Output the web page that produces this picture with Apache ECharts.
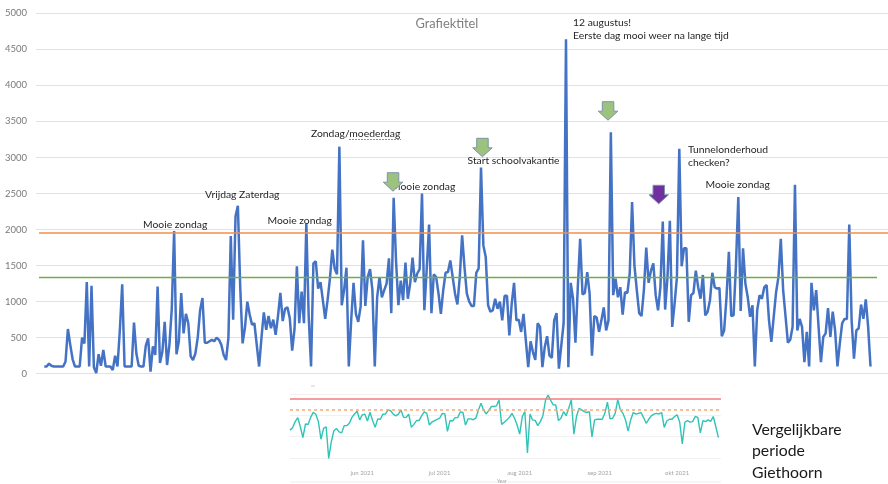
<!DOCTYPE html>
<html>
<head>
<meta charset="utf-8">
<title>Grafiektitel</title>
<script src="https://cdn.jsdelivr.net/npm/echarts@6/dist/echarts.min.js"></script>
<style>
html, body { margin: 0; padding: 0; background: #fff; }
#main { width: 888px; height: 484px; }
</style>
</head>
<body>
<div id="main"></div>
<script>
// bezoekers per dag
var visitors = [
	100,100,140,110,100,100,100,100,100,170,620,400,200,100,100,100,500,420,1270,100,1220,90,10,270,110,330,100,100,100,50,250,100,600,1240,100,100,100,100,710,
	280,110,100,100,390,490,30,380,260,1210,150,300,720,120,400,900,1980,270,450,1120,560,830,700,240,190,280,500,880,1050,430,430,450,470,450,500,470,400,260,190,500,
	1910,750,2180,2330,1200,420,640,1000,820,680,700,400,100,500,850,610,800,630,750,540,800,1120,730,900,920,770,320,620,1490,
	700,1140,700,2080,800,100,1530,1560,1180,1270,1020,760,1020,1320,1720,1460,1380,3150,950,1160,1470,100,740,1260,830,720,930,1850,940,1340,1450,1160,100,1060,1340,1060,1160,1250,1600,840,
	2440,1570,950,1290,1020,1540,1040,1250,1610,1270,1390,1450,2500,880,1450,2070,840,1380,1340,1110,830,1160,1400,1410,1570,1340,1110,960,1340,1920,1480,1110,1000,940,940,1400,1460,2860,1780,1620,
	950,860,880,1040,900,1000,740,1080,1080,530,970,1260,740,750,580,830,460,90,450,300,190,700,650,90,370,520,250,220,740,840,70,390,700,4640,90,1260,1040,430,1200,1870,1100,
	1120,1410,1110,250,800,780,580,740,920,600,740,3350,1090,1320,1060,1200,820,1130,1120,1390,2380,1500,1160,840,800,1160,1750,1260,1430,1530,1090,880,1200,2110,890,1340,2120,650,970,1340,
	3120,1490,1740,1740,720,1090,1120,1430,1200,1040,1370,810,860,1020,1400,1200,1180,1190,520,600,1060,1690,800,810,1500,2450,870,1740,1250,1060,790,950,100,880,1090,1040,1200,1230,740,440,
	790,1130,1340,1870,1160,800,430,470,650,2620,600,760,650,160,580,100,1260,880,1160,650,160,510,560,910,510,860,600,100,420,700,760,760,2070,740,210,600,630,960,760,1030,650,100
];
var upperLine = 1953;
var lowerLine = 1343;
var yTicks = [0, 500, 1000, 1500, 2000, 2500, 3000, 3500, 4000, 4500, 5000];

// vergelijkbare periode Giethoorn (schaal zonder labels in het origineel)
var compareStart = [2021, 4, 4];
var compareValues = [
	1300,1410,1700,1890,1460,950,1590,1570,1900,2140,2050,1700,870,1380,1460,-30,750,1270,1380,1220,1170,1510,1510,1620,1900,2060,2190,1780,2020,2050,1730,2140,1750,1430,1830,1810,2050,2060,2250,2210,
	2050,1970,2050,2250,1900,1900,2050,1440,1570,1750,1750,1970,2160,2090,1540,1680,1750,1810,1860,2090,2060,1240,1750,1730,1890,1890,2160,2130,1540,1830,1830,1790,1860,2250,2570,2250,2060,2220,2410,2410,
	2440,2730,1570,1670,1780,1900,2090,1860,1540,1110,1940,2170,220,2060,1780,1760,1510,1700,1980,2700,2950,2700,2490,2480,1750,1860,2170,1980,2330,2730,1110,1940,2330,2250,2170,2130,2170,980,1780,1810,
	1810,1810,2090,2620,1830,1860,2090,2730,2250,2090,1780,1250,1780,2130,2050,2090,2130,1890,1620,1810,1970,2050,2090,2060,2130,1430,1730,1810,1810,1940,2020,1670,650,1670,1750,1680,1700,1940,1900,1170,
	1750,1700,1780,1710,1940,1460,950
];
var compareRed = 2760;
var compareDotted = 2250;
var monthNames = ['jan', 'feb', 'mrt', 'apr', 'mei', 'jun', 'jul', 'aug', 'sep', 'okt', 'nov', 'dec'];

var font = 'Lato';

var mainPoints = [];
for(var i = 0; i < visitors.length; i++) {
	mainPoints.push([i, visitors[i]]);
}
var comparePoints = [];
for(var j = 0; j < compareValues.length; j++) {
	comparePoints.push([new Date(compareStart[0], compareStart[1], compareStart[2] + j), compareValues[j]]);
}

// eerste punt op x=44.3, laatste op x=870.5, grid loopt van 36 tot 888
var step = (870.5 - 44.3) / (visitors.length - 1);

function note(text, x, y, size, color) {
	return {
		type: 'text',
		x: x,
		y: y,
		z: 10,
		style: {
			text: text,
			fill: color || '#262626',
			font: (size || 10.35) + 'px ' + font,
			textVerticalAlign: 'middle'
		}
	};
}

function arrow(x, y, fill, stroke) {
	// pijl naar beneden, 20 breed en 18.5 hoog
	return {
		type: 'polygon',
		z: 11,
		shape: {
			points: [[x + 4, y], [x + 15.5, y], [x + 15.5, y + 9.5], [x + 19.5, y + 9.5], [x + 9.7, y + 18.5], [x, y + 9.5], [x + 4, y + 9.5]]
		},
		style: { fill: fill, stroke: stroke, lineWidth: 1 }
	};
}

var myChart = echarts.init(document.getElementById('main'));

var option = {
	animation: false,
	backgroundColor: '#fff',
	textStyle: { fontFamily: font },
	grid: [
		{ left: 36, top: 13.3, width: 852, height: 360.4 },
		{ left: 290, top: 394, width: 431, height: 85 }
	],
	xAxis: [
		{
			gridIndex: 0,
			type: 'value',
			min: -8.3 / step,
			max: (888 - 44.3) / step,
			show: false
		},
		{
			gridIndex: 1,
			type: 'time',
			min: new Date(2021, 4, 4).getTime(),
			max: new Date(2021, 9, 18).getTime(),
			splitLine: { show: false },
			axisTick: { show: false },
			axisLine: { show: false },
			axisLabel: {
				color: '#a3a3a3',
				fontSize: 6,
				margin: -9,
				hideOverlap: false,
				formatter: function(val) {
					var d = new Date(val);
					if(d.getDate() !== 1) return '';
					return monthNames[d.getMonth()] + ' ' + d.getFullYear();
				}
			}
		}
	],
	yAxis: [
		{
			gridIndex: 0,
			type: 'value',
			min: yTicks[0],
			max: yTicks[yTicks.length - 1],
			interval: 500,
			axisLine: { show: false },
			axisTick: { show: false },
			axisLabel: {
				color: '#7a7a7a',
				fontSize: 9.5,
				margin: 9,
				formatter: function(val) { return String(val); }
			},
			splitLine: { lineStyle: { color: '#e2e2e2', width: 1.2 } }
		},
		{
			gridIndex: 1,
			type: 'value',
			min: -1000,
			max: 3000,
			interval: 1000,
			axisLine: { show: false },
			axisTick: { show: false },
			axisLabel: { show: false },
			splitLine: { showMinLine: false, lineStyle: { color: '#f1f1f1', width: 1 } }
		}
	],
	series: [
		{
			name: 'Bezoekers',
			type: 'line',
			xAxisIndex: 0,
			yAxisIndex: 0,
			data: mainPoints,
			showSymbol: false,
			lineStyle: { color: '#4472C4', width: 2.5 },
			z: 3
		},
		{
			name: 'Grenzen',
			type: 'line',
			xAxisIndex: 0,
			yAxisIndex: 0,
			data: [],
			z: 4,
			markLine: {
				silent: true,
				symbol: 'none',
				label: { show: false },
				data: [
					[{ x: 39, yAxis: upperLine, lineStyle: { color: '#F08F4E', width: 1.5, type: 'solid' } }, { x: 888, yAxis: upperLine }],
					[{ x: 39, yAxis: lowerLine, lineStyle: { color: '#70AD47', width: 1.4, type: 'solid' } }, { x: 877, yAxis: lowerLine }]
				]
			}
		},
		{
			name: 'Giethoorn',
			type: 'line',
			xAxisIndex: 1,
			yAxisIndex: 1,
			data: comparePoints,
			showSymbol: false,
			lineStyle: { color: '#2EC4B6', width: 1.4 },
			z: 3,
			markLine: {
				silent: true,
				symbol: 'none',
				label: { show: false },
				data: [
					{ yAxis: compareRed, lineStyle: { color: '#F47C7C', width: 1.6, type: 'solid' } },
					{ yAxis: compareDotted, lineStyle: { color: '#F7A878', width: 1.5, type: [3, 3] } }
				]
			}
		}
	],
	graphic: [
		note('Grafiektitel', 415.5, 24, 12.8, '#7f7f7f'),
		note('Mooie zondag', 143, 224.5),
		note('Vrijdag Zaterdag', 205, 195),
		note('Mooie zondag', 267.5, 221),
		note('Zondag/moederdag', 311, 134),
		{
			type: 'line',
			z: 10,
			shape: { x1: 349, y1: 139.5, x2: 401, y2: 139.5 },
			style: { stroke: '#E0706A', lineWidth: 1, lineDash: [2, 1] }
		},
		note('Mooie zondag', 391, 187),
		note('Start schoolvakantie', 467.5, 160.5),
		note('12 augustus!', 573, 23),
		note('Eerste dag mooi weer na lange tijd', 573, 36),
		note('Tunnelonderhoud', 688, 149.5),
		note('checken?', 688, 163),
		note('Mooie zondag', 705.5, 185),
		arrow(383.3, 172.7, '#9DC27E', '#7F93A8'),
		arrow(472.7, 138.3, '#9DC27E', '#7F93A8'),
		arrow(598.3, 101.7, '#9DC27E', '#7F93A8'),
		arrow(649, 185.3, '#7030A0', '#7F93A8'),
		note('Vergelijkbare', 752, 430, 15.8, '#1a1a1a'),
		note('periode', 752, 451, 15.8, '#1a1a1a'),
		note('Giethoorn', 752, 473, 15.8, '#1a1a1a'),
		note('Year', 497, 481.5, 5, '#a3a3a3'),
		{
			type: 'line',
			shape: { x1: 290, y1: 482, x2: 721, y2: 482 },
			style: { stroke: '#ececec', lineWidth: 1 }
		},
		{
			type: 'line',
			shape: { x1: 311, y1: 386, x2: 315, y2: 386 },
			style: { stroke: '#cfcfcf', lineWidth: 1 }
		}
	]
};
myChart.setOption(option);
</script>
</body>
</html>
